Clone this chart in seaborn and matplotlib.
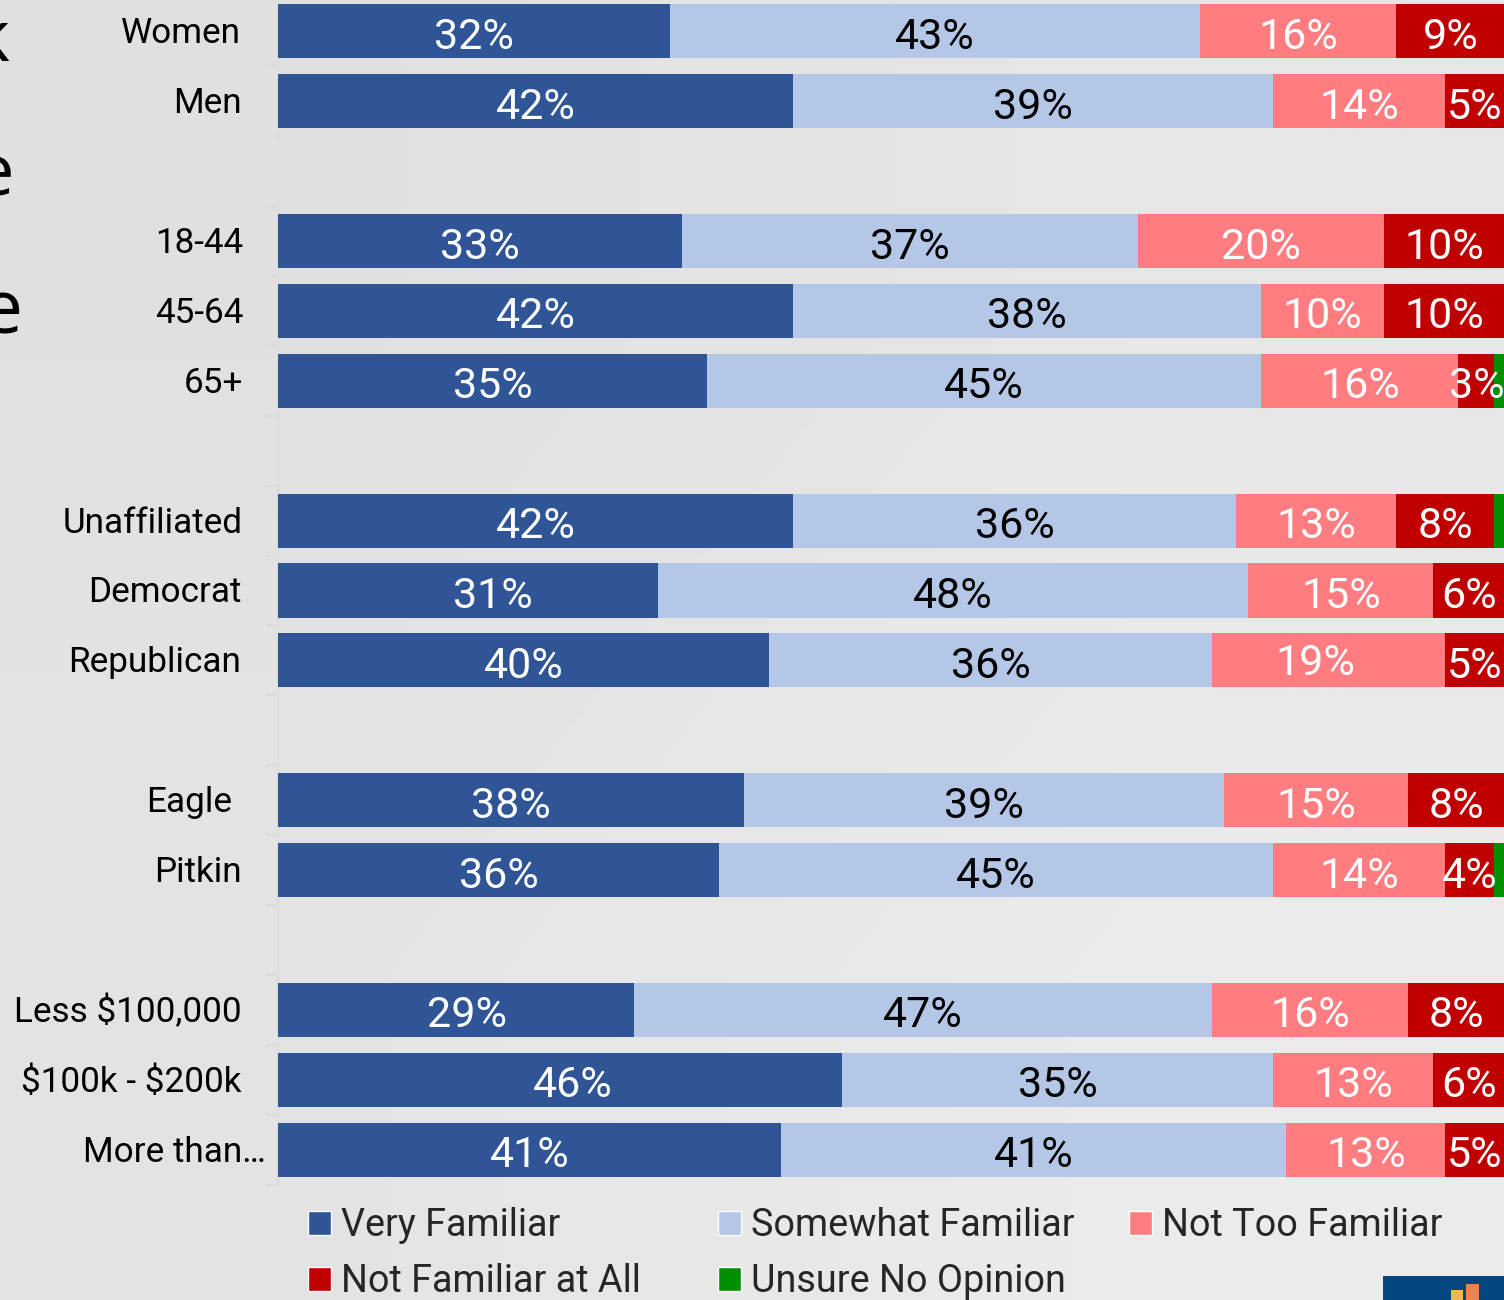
import numpy as np
import pandas as pd
import matplotlib.pyplot as plt
import seaborn as sns
from matplotlib.patches import Patch, Rectangle
from matplotlib.transforms import ScaledTranslation

# Survey values, percent per group
groups = ["Women", "Men", "18-44", "45-64", "65+", "Unaffiliated", "Democrat", "Republican",
          "Eagle", "Pitkin", "Less $100,000", "$100k - $200k", "More than…"]
very = [31.97, 42.0, 32.95, 42.0, 34.99, 42.0, 31.0, 40.05, 38.0, 35.97, 29.04, 46.0, 41.03]
somewhat = [43.23, 39.15, 37.19, 38.17, 45.19, 36.13, 48.12, 36.13, 39.15, 45.19, 47.14, 35.15, 41.19]
not_too = [15.99, 14.03, 20.07, 10.03, 16.07, 13.05, 15.09, 19.0, 15.0, 14.03, 15.99, 13.05, 12.97]
not_at_all = [8.81, 4.82, 9.79, 9.79, 2.94, 7.99, 5.79, 4.82, 7.85, 3.99, 7.85, 5.79, 4.82]
unsure = [0, 0, 0, 0, 0.81, 0.83, 0, 0, 0, 0.82, 0, 0, 0]

# Row order with empty rows between the blocks
order = ["Women", "Men", " ", "18-44", "45-64", "65+", "  ", "Unaffiliated", "Democrat", "Republican",
         "   ", "Eagle", "Pitkin", "    ", "Less $100,000", "$100k - $200k", "More than…"]

series = ["Very Familiar", "Somewhat Familiar", "Not Too Familiar", "Not Familiar at All", "Unsure No Opinion"]
colors = ["#2F5597", "#B4C7E7", "#FF7C80", "#C00000", "#008F00"]
text_colors = ["white", "black", "white", "white", None]

df = pd.DataFrame(dict(zip(series, [very, somewhat, not_too, not_at_all, unsure])))
df["group"] = groups

sns.set_theme(style="white")
plt.rcParams["font.family"] = ["Roboto", "DejaVu Sans"]
plt.rcParams["text.parse_math"] = False

W, H = 1504, 1300
fig = plt.figure(figsize=(W / 100, H / 100), dpi=100)

# Slide background, a faint gradient
bg = fig.add_axes([0, 0, 1, 1], zorder=0)
bg.imshow([[0.878, 0.902], [0.894, 0.92]], cmap="gray", vmin=0, vmax=1, aspect="auto",
          interpolation="bilinear", extent=[0, 1, 0, 1])
bg.axis("off")

# Pieces of the slide title cut off at the left edge
fig.text(10 / W, 1 - 61 / H, "k", fontsize=52, ha="right", va="baseline", family="Open Sans", color="black")
fig.text(14 / W, 1 - 196 / H, "e", fontsize=52, ha="right", va="baseline", family="Open Sans", color="black")
fig.text(23 / W, 1 - 333 / H, "e", fontsize=54, ha="right", va="baseline", family="Open Sans", color="black")

# Logo corner, bottom right
fig.add_artist(Rectangle((1383 / W, 0), 121 / W, 24 / H, transform=fig.transFigure, color="#04467F", lw=0))
fig.add_artist(Rectangle((1451 / W, 0), 12 / W, 10 / H, transform=fig.transFigure, color="#F2B84B", lw=0))
fig.add_artist(Rectangle((1466 / W, 0), 13 / W, 16 / H, transform=fig.transFigure, color="#EE8350", lw=0))

ax = fig.add_axes([277.5 / W, 1 - 1184.5 / H, 1226.5 / W, 1188 / H], zorder=1)
ax.patch.set_alpha(0)

# A few labels are off centre in the source, offsets in pixels
nudge = {("Very Familiar", "Democrat"): (25, 0), ("Very Familiar", "Less $100,000"): (11, 0),
         ("Very Familiar", "$100k - $200k"): (13, 0), ("Not Too Familiar", "Republican"): (-13, 3)}

# Stacked bars, one barplot call per answer
left = np.zeros(len(groups))
for name, color, tc in zip(series, colors, text_colors):
    sns.barplot(data=df, x=name, y="group", order=order, orient="h", color=color, left=left,
                width=0.773, saturation=1, linewidth=0, ax=ax)
    if tc is not None:
        labels = [f"{round(v)}%" for v in df[name]]
        anns = ax.bar_label(ax.containers[-1], labels=labels, label_type="center", color=tc, fontsize=31)
        for ann, g in zip(anns, groups):
            dx, dy = nudge.get((name, g), (0, 0))
            ann.xyann = ((dx + 0.5) * 0.72, (dy - 6) * 0.72)
    left = left + df[name].values

ax.set_xlim(0, 100)
ax.set_ylim(16.5, -0.5)
ax.set_xlabel("")
ax.set_ylabel("")
ax.set_xticks([])

# Group names sit on major ticks, the small marks on minor ticks between rows
ax.set_yticks(range(len(order)))
ax.set_yticklabels(order)
ax.set_yticks(np.arange(-0.5, 17), minor=True)
ax.tick_params(axis="y", which="major", length=0, pad=26, labelsize=25.3, labelcolor="black")
ax.tick_params(axis="y", which="minor", length=9, width=1.5, color="#DCDCDC", left=True)

# The source labels are not quite aligned
shift = {"Eagle": -9, "More than…": 24, "18-44": 2, "45-64": 2, "65+": 2, "Unaffiliated": 1}
for lab in ax.get_yticklabels():
    dx = shift.get(lab.get_text(), 0)
    lab.set_transform(lab.get_transform() + ScaledTranslation(dx / 100, 1 / 100, fig.dpi_scale_trans))

sns.despine(ax=ax, top=True, right=True, bottom=True)
ax.spines["left"].set_color("#DCDCDC")
ax.spines["left"].set_linewidth(1.5)
ax.spines["left"].set_zorder(0.5)

# Legend columns have a fixed width in the source, so one legend per column
columns = [(307.5, [0, 3]), (717.5, [1, 4]), (1128.5, [2])]
for x, idx in columns:
    handles = [Patch(facecolor=colors[i], label=series[i]) for i in idx]
    leg = fig.legend(handles=handles, loc="upper left", bbox_to_anchor=(x / W, 1 - 1207.5 / H), frameon=False,
                     fontsize=27.2, handlelength=0.61, handleheight=0.61, handletextpad=0.27,
                     labelspacing=0.5, borderpad=0, borderaxespad=0)
    leg.set_zorder(2)

fig.savefig("out.png", dpi=100)
